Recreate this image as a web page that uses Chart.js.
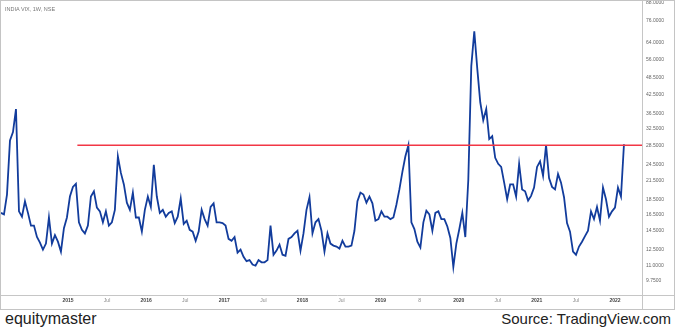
<!doctype html>
<html>
<head>
<meta charset="utf-8">
<title>India VIX weekly</title>
<script src="https://cdn.jsdelivr.net/npm/chart.js@4.4.1/dist/chart.umd.min.js"></script>
<style>
body { margin: 0; background: #fff; font-family: "Liberation Sans", Arial, sans-serif; }
#frame { position: absolute; left: 0; top: 0; width: 675px; height: 310px; box-sizing: border-box; border: 1px solid #c4c4c4; }
#frame canvas { display: block; }
#symbol { position: absolute; left: 4px; top: 5px; font-size: 5.5px; color: #777; white-space: nowrap; }
.foot { position: absolute; top: 310px; font-size: 16px; color: #222; white-space: nowrap; }
</style>
</head>
<body>
<div id="frame">
  <canvas id="vix" width="673" height="308"></canvas>
  <div id="symbol">INDIA VIX, 1W, NSE</div>
</div>
<div class="foot" style="left:5px">equitymaster</div>
<div class="foot" style="right:4px; font-size:15px">Source: TradingView.com</div>

<script>
// India VIX closes, one value every second week from 22 Feb 2014
var startDate = new Date(2014, 1, 22);
var stepDays = 14;
var vix = [
  16.7, 16.5, 19.3, 29.6, 31.6, 37.9, 16.9, 16.2, 18.3, 16.7,
  15.1, 15.1, 13.8, 13.2, 12.5, 13.1, 16.1, 13.1, 14.0, 13.3,
  12.3, 14.8, 16.1, 19.0, 20.5, 21.0, 15.5, 14.6, 14.2, 15.1,
  19.0, 19.8, 17.4, 16.9, 15.5, 16.9, 15.1, 15.5, 17.1, 26.1,
  22.9, 20.9, 18.1, 17.1, 19.6, 16.1, 16.1, 14.4, 17.1, 19.0,
  17.5, 24.4, 19.0, 16.7, 17.1, 16.2, 16.7, 16.9, 15.4, 16.2,
  18.7, 15.3, 15.7, 14.6, 14.4, 13.4, 14.4, 17.1, 15.9, 15.1,
  17.5, 18.0, 15.5, 15.5, 15.4, 15.1, 13.6, 13.4, 13.8, 12.2,
  12.5, 11.8, 11.4, 11.5, 11.1, 11.0, 11.5, 11.3, 11.3, 11.5,
  15.1, 12.0, 12.4, 13.0, 12.0, 11.9, 13.6, 13.8, 14.2, 14.5,
  12.4, 14.2, 17.1, 18.9, 14.2, 15.5, 15.9, 14.5, 12.3, 14.2,
  13.1, 12.9, 12.8, 12.6, 13.4, 12.8, 12.8, 12.9, 14.5, 18.3,
  19.6, 19.3, 18.1, 19.0, 18.0, 15.7, 15.9, 16.9, 16.2, 16.2,
  15.9, 16.1, 17.8, 20.1, 23.1, 26.1, 28.5, 15.5, 14.7, 13.3,
  12.7, 15.5, 17.0, 16.5, 14.5, 16.7, 16.9, 15.9, 15.9, 15.0,
  13.7, 10.9, 13.1, 14.7, 16.7, 13.8, 21.7, 53.2, 70.1, 52.2,
  40.0, 34.7, 37.9, 29.9, 30.6, 25.8, 24.6, 24.0, 21.2, 18.6,
  20.9, 20.9, 19.0, 24.6, 20.1, 19.8, 18.4, 19.1, 20.4, 24.0,
  25.1, 22.4, 28.5, 22.0, 20.5, 20.1, 22.7, 21.2, 18.9, 15.4,
  14.4, 12.3, 12.0, 12.8, 13.3, 13.9, 14.5, 16.9, 15.9, 17.5,
  15.7, 20.4, 18.6, 16.2, 16.9, 17.4, 20.4, 19.0, 28.7
];

// horizontal resistance level
var resistance = 28.5;
var resistanceFrom = 2015.12;

// price scale (right) and time scale (bottom)
var yTicks = [88, 76, 64, 56, 48.5, 42.5, 36.5, 32.5, 28.5, 24.5, 21.5, 18.5, 16.5, 14.5, 12.5, 11, 9.75];
var yMin = 8.73, yMax = 89.0;
var xTickPos = [2015, 2015.5, 2016, 2016.5, 2017, 2017.5, 2018, 2018.5, 2019, 2019.5, 2020, 2020.5, 2021, 2021.5, 2022];
var xTickLabels = ['2015', 'Jul', '2016', 'Jul', '2017', 'Jul', '2018', 'Jul', '2019', '8', '2020', 'Jul', '2021', 'Jul', '2022'];
var xMin = 2014.1426, xMax = 2022.3458;

function toYear(d) {
  var y = d.getFullYear();
  var a = new Date(y, 0, 1), b = new Date(y + 1, 0, 1);
  return y + (d - a) / (b - a);
}

var points = vix.map(function (v, i) {
  var d = new Date(startDate.getTime());
  d.setDate(d.getDate() + i * stepDays);
  return { x: toYear(d), y: v };
});

// thin gray axis cross: bottom time axis and right price axis
var axisLines = {
  id: 'axisLines',
  beforeDatasetsDraw: function (chart) {
    var ctx = chart.ctx, a = chart.chartArea;
    ctx.save();
    ctx.strokeStyle = '#c6c6c6';
    ctx.lineWidth = 1;
    ctx.beginPath();
    ctx.moveTo(0, Math.round(a.bottom) + 0.5);
    ctx.lineTo(chart.width, Math.round(a.bottom) + 0.5);
    ctx.moveTo(Math.round(a.right) + 0.5, 0);
    ctx.lineTo(Math.round(a.right) + 0.5, chart.height);
    ctx.stroke();
    ctx.restore();
  }
};

new Chart(document.getElementById('vix'), {
  type: 'line',
  data: {
    datasets: [
      {
        data: points,
        borderColor: '#123c9c',
        borderWidth: 1.8,
        pointRadius: 0,
        tension: 0,
        order: 1
      },
      {
        data: [{ x: resistanceFrom, y: resistance }, { x: xMax, y: resistance }],
        borderColor: '#f23645',
        borderWidth: 1.5,
        pointRadius: 0,
        order: 0
      }
    ]
  },
  options: {
    responsive: false,
    animation: false,
    layout: { padding: 0 },
    plugins: { legend: { display: false }, tooltip: { enabled: false } },
    scales: {
      x: {
        type: 'linear',
        bounds: 'data',
        min: xMin,
        max: xMax,
        grid: { display: false, drawTicks: false },
        border: { display: false },
        afterBuildTicks: function (ax) {
          ax.ticks = xTickPos.map(function (v) { return { value: v }; });
        },
        afterFit: function (ax) {
          ax.height = 14;
          ax.paddingLeft = 0;
          ax.paddingRight = 0;
        },
        ticks: {
          autoSkip: false,
          maxRotation: 0,
          padding: 3,
          callback: function (v, i) { return xTickLabels[i]; },
          font: function (c) {
            var lbl = xTickLabels[c.index];
            return { family: 'Liberation Sans', size: 5, weight: lbl && lbl.length === 4 ? 'bold' : 'normal' };
          },
          color: function (c) {
            var lbl = xTickLabels[c.index];
            return lbl && lbl.length === 4 ? '#444' : '#888';
          }
        }
      },
      y: {
        type: 'logarithmic',
        position: 'right',
        bounds: 'data',
        min: yMin,
        max: yMax,
        grid: { display: false, drawTicks: false },
        border: { display: false },
        afterBuildTicks: function (ax) {
          ax.ticks = yTicks.map(function (v) { return { value: v }; });
        },
        afterFit: function (ax) {
          ax.width = 32;
          ax.paddingTop = 0;
          ax.paddingBottom = 0;
        },
        ticks: {
          autoSkip: false,
          padding: 4,
          font: { family: 'Liberation Sans', size: 5 },
          color: '#666',
          callback: function (v) { return Number(v).toFixed(4); }
        }
      }
    }
  },
  plugins: [axisLines]
});
</script>
</body>
</html>
